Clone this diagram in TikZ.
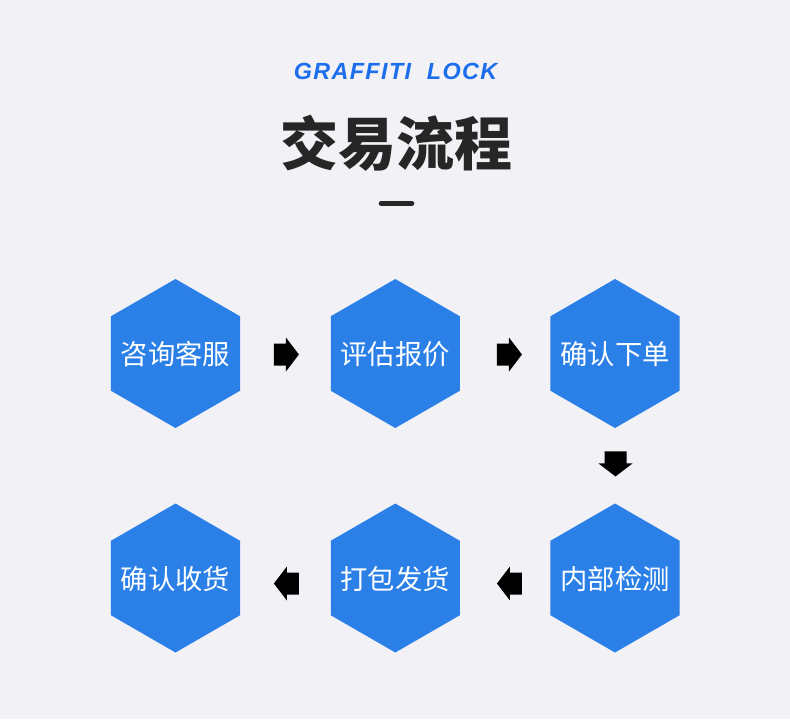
\documentclass[tikz,border=0pt]{standalone}
\usepackage{fontspec}
\newfontfamily\cjk{Noto Sans CJK SC}
\newfontfamily\headsans{Liberation Sans}[LetterSpace=6]
\usepackage{tikz}
\usetikzlibrary{positioning,calc}
\definecolor{bgcolor}{RGB}{241,241,246}
\definecolor{hexblue}{RGB}{43,128,232}
\definecolor{headblue}{RGB}{28,110,236}
\definecolor{titlegray}{RGB}{38,38,38}

\tikzset{
  steptext/.style={inner sep=0pt,text=white,
    font=\cjk\fontsize{20.5pt}{24pt}\selectfont},
  blockarr/.pic={
    \fill[black] (-12.5,-11) -- (-0.5,-11) -- (-0.5,-17) -- (12.5,0)
      -- (-0.5,17) -- (-0.5,11) -- (-12.5,11) -- cycle;}
}

\begin{document}
\begin{tikzpicture}[x=0.75pt,y=-0.75pt]
        \def\hr{74.5}
        \fill[bgcolor] (0,0) rectangle (790,719);
        \useasboundingbox (0,0) rectangle (790,719);
        % Heading
        \node[headblue,font=\headsans\bfseries\itshape\fontsize{17.5pt}{20pt}\selectfont] (brand) at (395.5,71) {GRAFFITI\ \ LOCK};
        \node[titlegray,font=\cjk\bfseries\fontsize{43.5pt}{50pt}\selectfont] (title) at (396,143) {交易流程};
        \draw[titlegray,line width=3.4pt,line cap=round] (381,203.3) -- (412,203.3);
        % Steps
        \foreach \nm/\x/\y/\txt in {zixun/175.5/353.5/咨询客服, pinggu/395.3/353.5/评估报价,
            xiadan/615/353.5/确认下单, jiance/615/578/内部检测,
            fahuo/395.3/578/打包发货, shouhuo/175.5/578/确认收货} {
          \fill[hexblue] (\x,\y) +(90:\hr) -- +(150:\hr) -- +(210:\hr)
            -- +(270:\hr) -- +(330:\hr) -- +(30:\hr) -- cycle;
          \node[steptext] (\nm) at (\x,\y+1) {\txt};
        }
        % Arrows
        \pic at ($(zixun)!0.5!(pinggu)+(1,0)$) {blockarr};
        \pic at ($(pinggu)!0.5!(xiadan)+(4.3,0)$) {blockarr};
        \pic[rotate=-90] at ($(xiadan)!0.5!(jiance)+(0.5,-2.8)$) {blockarr};
        \pic[rotate=180] at ($(jiance)!0.5!(fahuo)+(4.3,4.5)$) {blockarr};
        \pic[rotate=180] at ($(fahuo)!0.5!(shouhuo)+(1,4.5)$) {blockarr};
      \end{tikzpicture}
\end{document}
